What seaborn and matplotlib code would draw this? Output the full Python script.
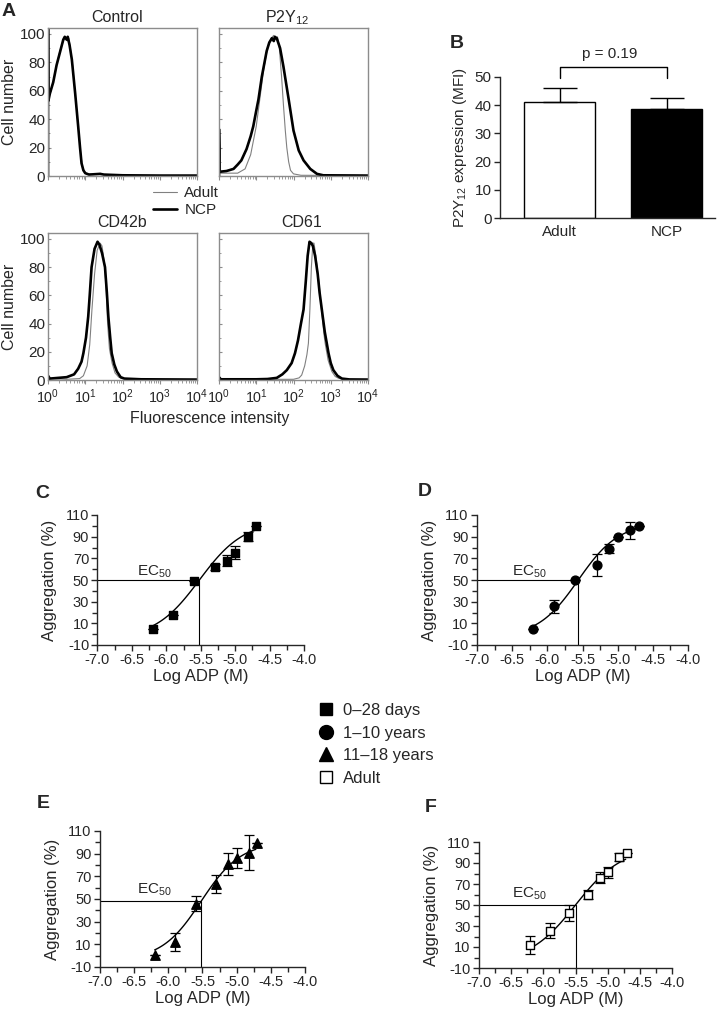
import numpy as np
import pandas as pd
import matplotlib
matplotlib.use("Agg")
import matplotlib.pyplot as plt
import seaborn as sns
from matplotlib.lines import Line2D
from matplotlib.ticker import MultipleLocator, LogLocator, NullFormatter

sns.set_style("ticks")
plt.rcParams['font.family'] = ['Liberation Sans', 'DejaVu Sans']
plt.rcParams['mathtext.fontset'] = 'custom'
plt.rcParams['mathtext.rm'] = 'Liberation Sans'
plt.rcParams['mathtext.it'] = 'Liberation Sans:italic'
plt.rcParams['mathtext.bf'] = 'Liberation Sans:bold'
plt.rcParams['axes.unicode_minus'] = False

# ---------------- Panel A: flow cytometry histograms (log10 intensity, cell number)
hist_titles = ["Control", "P2Y$_{12}$", "CD42b", "CD61"]
ctrl_adult_log = [0, 0, 0.01, 0.14, 0.23, 0.32, 0.41, 0.47, 0.52, 0.56, 0.6, 0.66, 0.74, 0.82, 0.88, 0.93, 1.0, 1.2, 1.4, 1.5, 2.0, 4.0]
ctrl_adult_cnt = [0, 120, 55, 66, 78, 88, 95, 98, 95, 97, 90, 78, 55, 32, 15, 6, 2, 1, 1.8, 0.8, 0.4, 0.3]
ctrl_ncp_log = [0, 0, 0.01, 0.05, 0.14, 0.23, 0.32, 0.41, 0.45, 0.5, 0.53, 0.58, 0.64, 0.73, 0.81, 0.86, 0.9, 0.95, 1.0, 1.1, 1.4, 1.5, 2.0, 3.0, 4.0]
ctrl_ncp_cnt = [0, 120, 53, 58, 66, 78, 87, 96, 98, 96, 98, 92, 82, 58, 35, 20, 9, 4, 2, 1, 1.5, 1, 0.5, 0.3, 0.3]

p2y_adult_log = [0, 0, 0.02, 0.5, 0.7, 0.85, 1.0, 1.1, 1.2, 1.3, 1.4, 1.47, 1.52, 1.57, 1.62, 1.68, 1.73, 1.78, 1.82, 1.87, 1.92, 2.0, 2.2, 4.0]
p2y_adult_cnt = [0, 2, 2, 2, 5, 15, 35, 55, 75, 90, 97, 99, 96, 98, 90, 70, 50, 32, 20, 10, 4, 1.5, 0.5, 0.3]
p2y_ncp_log = [0, 0, 0.02, 0.2, 0.39, 0.5, 0.6, 0.74, 0.85, 0.92, 1.0, 1.06, 1.15, 1.28, 1.35, 1.42, 1.47, 1.5, 1.55, 1.64, 1.73, 1.87, 2.0, 2.14, 2.27, 2.45, 2.63, 2.8, 4.0]
p2y_ncp_cnt = [0, 33, 3, 3.5, 5, 8, 11, 19, 28, 35, 46, 54, 70, 88, 94, 97, 95, 98, 97, 90, 77, 54, 32, 18, 11, 5, 1.5, 0.5, 0.3]

cd42_adult_log = [0, 0, 0.02, 0.5, 0.85, 0.95, 1.05, 1.12, 1.18, 1.25, 1.32, 1.4, 1.45, 1.52, 1.56, 1.6, 1.65, 1.72, 1.8, 1.9, 2.0, 2.5, 4.0]
cd42_adult_cnt = [0, 1, 1, 0.5, 1, 3, 10, 25, 50, 75, 92, 97, 95, 82, 65, 40, 22, 12, 5, 2, 1, 0.4, 0.3]
cd42_ncp_log = [0, 0, 0.05, 0.5, 0.7, 0.81, 0.9, 0.95, 1.02, 1.08, 1.12, 1.17, 1.25, 1.33, 1.38, 1.45, 1.53, 1.58, 1.62, 1.67, 1.71, 1.78, 1.85, 1.95, 2.05, 2.5, 4.0]
cd42_ncp_cnt = [0, 3, 1, 2, 4, 8, 13, 19, 30, 45, 60, 80, 93, 98, 96, 90, 80, 62, 45, 30, 19, 11, 6, 2, 1, 0.5, 0.3]

cd61_adult_log = [0, 0, 0.05, 2.0, 2.15, 2.22, 2.3, 2.36, 2.4, 2.44, 2.48, 2.52, 2.55, 2.6, 2.68, 2.75, 2.82, 2.85, 2.93, 3.03, 3.12, 3.21, 3.4, 4.0]
cd61_adult_cnt = [0, 1, 0.3, 0.5, 1.5, 3.5, 10, 18, 26, 50, 80, 97, 97, 88, 70, 50, 32, 26, 14, 6, 2.5, 1.2, 0.4, 0.3]
cd61_ncp_log = [0, 0, 0.05, 1.0, 1.3, 1.55, 1.7, 1.82, 1.95, 2.04, 2.12, 2.2, 2.27, 2.33, 2.38, 2.43, 2.48, 2.52, 2.58, 2.65, 2.7, 2.76, 2.84, 2.94, 3.0, 3.07, 3.18, 3.3, 3.5, 4.0]
cd61_ncp_cnt = [0, 2, 0.5, 0.5, 0.7, 1.5, 4, 7, 12, 19, 28, 40, 50, 70, 88, 98, 97, 95, 88, 75, 62, 50, 34, 19, 12, 7, 3, 1, 0.4, 0.3]

x_tick_labels_A = ["$10^{0}$", "$10^{1}$", "$10^{2}$", "$10^{3}$", "$10^{4}$"]

# ---------------- Panel B
groups = ["Adult", "NCP"]
mfi_mean = [41, 38.5]
mfi_sem = [5, 4]
p_text = "p = 0.19"

# ---------------- Panels C-F
log_adp = [-6.2, -5.9, -5.6, -5.3, -5.12, -5.0, -4.82, -4.7]
agg_c = [5, 18, 49, 62, 68, 75, 90, 100]
err_c = [0, 0, 0, 3, 5, 6, 4, 0]
agg_d = [5, 26, 50, 64, 79, 90, 96, 100]
err_d = [0, 6, 0, 10, 4.5, 0, 8, 0]
agg_e = [1, 12, 46, 63, 81, 86, 91, 99]
err_e = [0, 8, 7, 8, 10, 9, 15.5, 0]
agg_f = [12, 25.7, 42, 60, 76, 81, 95.8, 100]
err_f = [8.7, 7.5, 7.6, 4, 5, 5, 4, 0]
# 4-parameter logistic fits: bottom, top, logEC50, hill slope
fit_c = [-4, 104, -5.52, 1.35]
fit_d = [-3, 103, -5.56, 1.5]
fit_e = [-4, 100, -5.52, 1.5]
fit_f = [-5, 105, -5.5, 1.2]
group_labels = ["0\u201328 days", "1\u201310 years", "11\u201318 years", "Adult"]

W, H = 722, 1019
fig = plt.figure(figsize=(W / 100, H / 100), dpi=100)


def add_ax(x0, y0, x1, y1):
    return fig.add_axes([x0 / W, 1 - y1 / H, (x1 - x0) / W, (y1 - y0) / H])


# ---------------- Panel A
hist_sets = [
    (ctrl_adult_log, ctrl_adult_cnt, ctrl_ncp_log, ctrl_ncp_cnt),
    (p2y_adult_log, p2y_adult_cnt, p2y_ncp_log, p2y_ncp_cnt),
    (cd42_adult_log, cd42_adult_cnt, cd42_ncp_log, cd42_ncp_cnt),
    (cd61_adult_log, cd61_adult_cnt, cd61_ncp_log, cd61_ncp_cnt),
]
boxes = [(48, 28, 197, 176), (219, 28, 368, 176), (48, 233, 197, 380), (219, 233, 368, 380)]
title_x = [0.463, 0.456, 0.5, 0.557]
gray = "#8c8c8c"
for i, (box, hs) in enumerate(zip(boxes, hist_sets)):
    ax = add_ax(*box)
    al, ac, nl, nc = hs
    sns.lineplot(x=10 ** np.array(al, float), y=ac, sort=False, estimator=None,
                 color="#808080", lw=0.8, ax=ax)
    sns.lineplot(x=10 ** np.array(nl, float), y=nc, sort=False, estimator=None,
                 color="black", lw=1.9, ax=ax)
    ax.set_xscale("log")
    ax.set_xlim(1, 1e4)
    ax.set_ylim(0, 104.2)
    ax.set_xlabel("")
    ax.set_ylabel("")
    ax.set_xticks([1, 10, 100, 1000, 10000])
    ax.xaxis.set_minor_locator(LogLocator(base=10, subs=np.arange(2, 10), numticks=20))
    ax.xaxis.set_minor_formatter(NullFormatter())
    ax.set_yticks([0, 20, 40, 60, 80, 100])
    ax.yaxis.set_minor_locator(MultipleLocator(10))
    for s in ax.spines.values():
        s.set_color(gray)
        s.set_linewidth(1.0)
    ax.tick_params(axis="x", which="major", direction="out", length=3, width=0.8, color=gray, labelsize=10.3, pad=2)
    ax.tick_params(axis="x", which="minor", direction="out", length=1.8, width=0.6, color=gray)
    ax.tick_params(axis="y", which="major", direction="in", length=2.5, width=0.8, color=gray, labelsize=11, pad=2)
    ax.tick_params(axis="y", which="minor", direction="in", length=1.5, width=0.6, color=gray)
    if i >= 2:
        ax.set_xticklabels(x_tick_labels_A)
    else:
        ax.tick_params(axis="x", labelbottom=False)
    if i % 2 == 1:
        ax.tick_params(axis="y", labelleft=False)
    else:
        ax.set_ylabel("Cell number", fontsize=11.5, labelpad=2)
    ax.set_title(hist_titles[i], fontsize=11.5, x=title_x[i], pad=4)

fig.text(210 / W, 1 - 418 / H, "Fluorescence intensity", ha="center", va="center", fontsize=11.5)
fig.legend([Line2D([], [], color="#808080", lw=0.8), Line2D([], [], color="black", lw=1.9)],
           ["Adult", "NCP"], loc="center left", bbox_to_anchor=(153 / W, 1 - 201.5 / H),
           frameon=False, fontsize=11, handlelength=1.55, handletextpad=0.5,
           labelspacing=0.2, borderpad=0, borderaxespad=0)

# ---------------- Panel B
axB = add_ax(500, 77, 715, 218)
sns.barplot(x=groups, y=mfi_mean, hue=groups, palette=["white", "black"], legend=False,
            edgecolor="black", linewidth=1.0, width=0.66, saturation=1, errorbar=None, ax=axB)
axB.errorbar([0, 1], mfi_mean, yerr=[[0, 0], mfi_sem], fmt="none", ecolor="black",
             elinewidth=1.0, capsize=12.5, capthick=1.0, zorder=3)
axB.set_xlim(-0.556, 1.453)
axB.set_ylim(0, 50)
axB.set_yticks([0, 10, 20, 30, 40, 50])
sns.despine(ax=axB)
axB.spines["left"].set_linewidth(1.0)
axB.spines["bottom"].set_linewidth(1.0)
axB.tick_params(axis="y", direction="out", length=4, width=1, labelsize=11, pad=2)
axB.tick_params(axis="x", length=0, labelsize=11, pad=5)
axB.set_ylabel("P2Y$_{12}$ expression (MFI)", fontsize=11, labelpad=4)
axB.plot([0, 0, 1, 1], [49.6, 53.5, 53.5, 49.6], color="black", lw=1.0, clip_on=False)
axB.text(0.47, 58.2, p_text, ha="center", va="center", fontsize=11, clip_on=False)


# ---------------- Panels C-F
def logistic(x, p):
    b, t, ec, h = p
    return b + (t - b) / (1 + 10 ** ((ec - x) * h))


dose_panels = [
    ((97.5, 515, 304, 645), agg_c, err_c, fit_c, "s", "black", (-6.43, 57.4)),
    ((477, 515, 688, 645), agg_d, err_d, fit_d, "o", "black", (-6.5, 57.4)),
    ((100, 831, 305, 967), agg_e, err_e, fit_e, "^", "black", (-6.46, 58)),
    ((479, 842, 672, 968), agg_f, err_f, fit_f, "s", "white", (-6.49, 60.5)),
]
for box, agg, err, fit, mk, fc, ec_pos in dose_panels:
    ax = add_ax(*box)
    xs = np.linspace(log_adp[0], -4.72, 120)
    sns.lineplot(x=xs, y=logistic(xs, fit), color="black", lw=1.0, ax=ax)
    ymid = (fit[0] + fit[1]) / 2
    ax.plot([-7, fit[2], fit[2]], [ymid, ymid, -10], color="black", lw=0.8)
    ax.errorbar(log_adp, agg, yerr=err, fmt="none", ecolor="black", elinewidth=0.9,
                capsize=3.5, capthick=0.9, zorder=3)
    ms = 46 if mk == "^" else 40
    sns.scatterplot(x=log_adp, y=agg, marker=mk, s=ms, color=fc, edgecolor="black",
                    linewidth=1.0, ax=ax, zorder=4, clip_on=False)
    ax.text(ec_pos[0], ec_pos[1], "EC$_{50}$", fontsize=11, va="center", ha="left")
    ax.set_xlim(-7, -4)
    ax.set_ylim(-10, 110)
    ax.set_xticks(np.arange(-7.0, -3.99, 0.5))
    ax.set_xticklabels([f"{v:.1f}" for v in np.arange(-7.0, -3.99, 0.5)])
    ax.xaxis.set_minor_locator(MultipleLocator(0.25))
    ax.set_yticks(np.arange(-10, 111, 20))
    ax.yaxis.set_minor_locator(MultipleLocator(10))
    sns.despine(ax=ax)
    ax.spines["left"].set_linewidth(1.0)
    ax.spines["bottom"].set_linewidth(1.0)
    ax.tick_params(which="major", direction="out", length=4, width=1, labelsize=10.5, pad=2)
    ax.tick_params(which="minor", direction="out", length=3.5, width=1)
    ax.set_xlabel("Log ADP (M)", fontsize=12, labelpad=1)
    ax.set_ylabel("Aggregation (%)", fontsize=12, labelpad=6)

handles = [
    Line2D([], [], ls="none", marker="s", ms=9, mfc="black", mec="black"),
    Line2D([], [], ls="none", marker="o", ms=10, mfc="black", mec="black"),
    Line2D([], [], ls="none", marker="^", ms=10, mfc="black", mec="black"),
    Line2D([], [], ls="none", marker="s", ms=9, mfc="white", mec="black", mew=1.0),
]
fig.legend(handles, group_labels, loc="center left", bbox_to_anchor=(318 / W, 1 - 744.5 / H),
           frameon=False, fontsize=12, handlelength=1.0, handletextpad=0.5,
           labelspacing=0.45, borderpad=0, borderaxespad=0)

# panel letters
for lab, x, y in [("A", 2, 11), ("B", 450, 43), ("C", 35, 493), ("D", 418, 492),
                  ("E", 37, 803), ("F", 425, 808)]:
    fig.text(x / W, 1 - y / H, lab, fontsize=14, fontweight="bold", ha="left", va="center")

fig.savefig("out.png", dpi=100)
